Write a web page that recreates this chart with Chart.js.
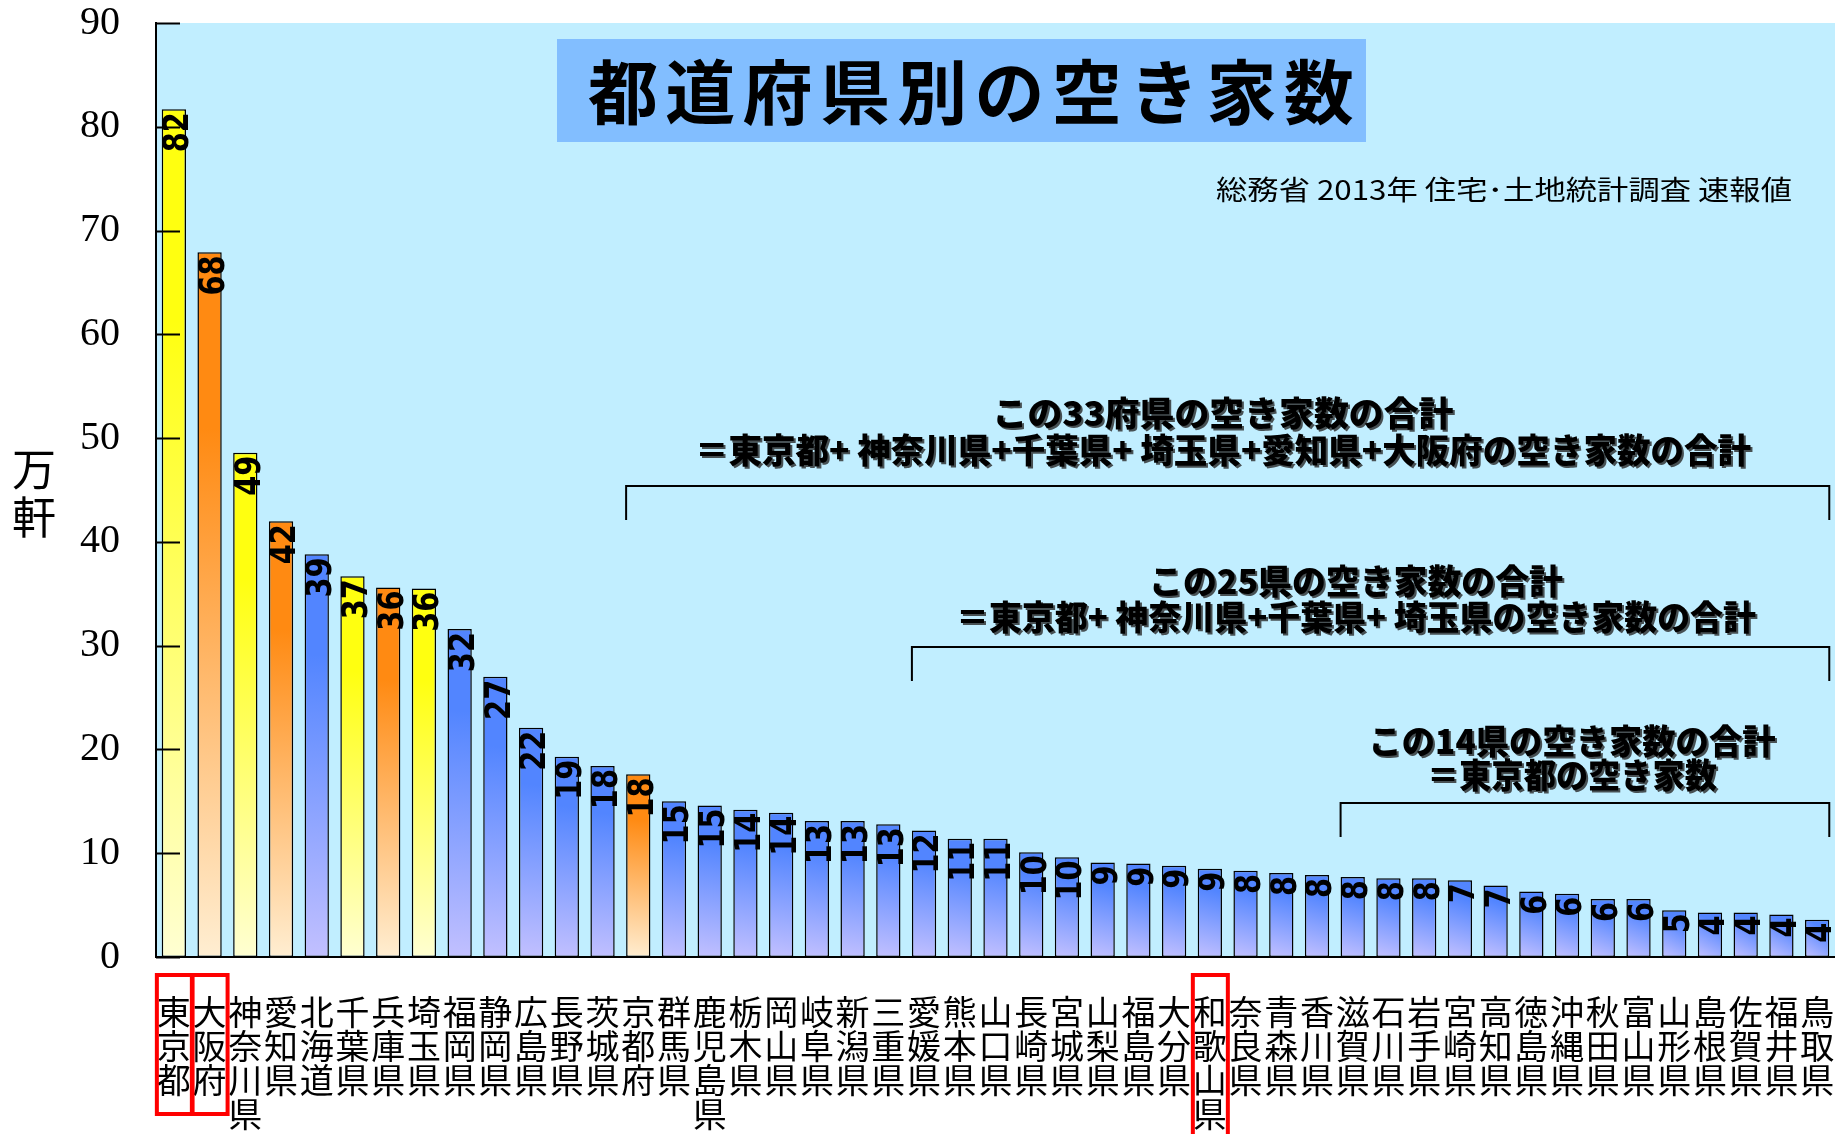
<!DOCTYPE html>
<html lang="ja">
<head>
<meta charset="utf-8">
<title>都道府県別の空き家数</title>
<script src="https://cdn.jsdelivr.net/npm/chart.js@4.4.1/dist/chart.umd.min.js"></script>
<style>
  html, body { margin: 0; padding: 0; background: #fff; }
  #wrap { position: relative; width: 1835px; height: 1134px; }
</style>
</head>
<body>
<div id="wrap"><canvas id="c"></canvas></div>
<script>
// 都道府県別の空き家数（万軒） —— 総務省 2013年 住宅・土地統計調査 速報値

const prefectures = [
  '東京都', '大阪府', '神奈川県', '愛知県', '北海道', '千葉県', '兵庫県', '埼玉県',
  '福岡県', '静岡県', '広島県', '長野県', '茨城県', '京都府', '群馬県', '鹿児島県',
  '栃木県', '岡山県', '岐阜県', '新潟県', '三重県', '愛媛県', '熊本県', '山口県',
  '長崎県', '宮城県', '山梨県', '福島県', '大分県', '和歌山県', '奈良県', '青森県',
  '香川県', '滋賀県', '石川県', '岩手県', '宮崎県', '高知県', '徳島県', '沖縄県',
  '秋田県', '富山県', '山形県', '島根県', '佐賀県', '福井県', '鳥取県'
];

// 万軒
const vacantHomes = [
  81.7, 67.9, 48.6, 42.0, 38.8, 36.7, 35.6, 35.5,
  31.6, 27.0, 22.1, 19.3, 18.4, 17.6, 15.0, 14.6,
  14.2, 13.9, 13.1, 13.1, 12.8, 12.2, 11.4, 11.4,
  10.1, 9.6, 9.1, 9.0, 8.8, 8.5, 8.3, 8.1,
  7.9, 7.7, 7.6, 7.6, 7.4, 6.9, 6.3, 6.1,
  5.6, 5.6, 4.5, 4.3, 4.3, 4.1, 3.6
];

// 棒の色分け  y: 黄, o: 橙, b: 青
const colorGroups = [
  'y', 'o', 'y', 'o', 'b', 'y', 'o', 'y',
  'b', 'b', 'b', 'b', 'b', 'o', 'b', 'b',
  'b', 'b', 'b', 'b', 'b', 'b', 'b', 'b',
  'b', 'b', 'b', 'b', 'b', 'b', 'b', 'b',
  'b', 'b', 'b', 'b', 'b', 'b', 'b', 'b',
  'b', 'b', 'b', 'b', 'b', 'b', 'b'
];

const yTickValues = [0, 10, 20, 30, 40, 50, 60, 70, 80, 90];

const chartTitle = '都道府県別の空き家数';
const sourceNote = '総務省 2013年 住宅･土地統計調査 速報値';
const yAxisTitle = ['万', '軒'];

// 赤枠で囲む県（インデックス）
const highlighted = [0, 1, 29];

// 括弧の注記  from/to は棒のインデックス
const bracketNotes = [
  { lines: ['この33府県の空き家数の合計', '＝東京都+ 神奈川県+千葉県+ 埼玉県+愛知県+大阪府の空き家数の合計'], from: 13, to: 46 },
  { lines: ['この25県の空き家数の合計', '＝東京都+ 神奈川県+千葉県+ 埼玉県の空き家数の合計'], from: 21, to: 46 },
  { lines: ['この14県の空き家数の合計', '＝東京都の空き家数'], from: 33, to: 46 }
];

// ---- 見た目 ----
const CJK = '"Noto Sans CJK JP", "Noto Sans CJK SC", sans-serif';
const PALETTE = {
  y: { top: '#FFFF10', bottom: '#FFFFD2' },
  o: { top: '#FF8A12', bottom: '#FFEED2' },
  b: { top: '#5285FF', bottom: '#C2C0FF' }
};
// 注記の配置 (テキスト中心・幅、括弧の高さ)
const NOTE_LAYOUT = [
  { cx: 1223, y1: 413, w1: 461, y2: 450, w2: 1056, by: 486, drop: 34 },
  { cx: 1356, y1: 581, w1: 414, y2: 617, w2: 800, by: 647, drop: 34 },
  { cx: 1572, y1: 741, w1: 407, y2: 775, w2: 290, by: 803, drop: 34 }
];

function barFill(ctx) {
  const i = ctx.dataIndex;
  const pal = PALETTE[colorGroups[i]];
  const { x, y } = ctx.chart.scales;
  if (!x || !y || !ctx.chart.chartArea) return pal.top;
  const cx = x.getPixelForValue(i);
  const half = (x.getPixelForValue(1) - x.getPixelForValue(0)) * 0.34;
  const top = y.getPixelForValue(vacantHomes[i]);
  const bottom = y.getPixelForValue(0);
  const g = ctx.chart.ctx.createLinearGradient(cx + half, top, cx - half, bottom);
  g.addColorStop(0, pal.top);
  g.addColorStop(0.25, pal.top);
  g.addColorStop(1, pal.bottom);
  return g;
}

function fitText(c, text, cx, cy, width) {
  const w = c.measureText(text).width;
  c.save();
  c.translate(cx, cy);
  c.scale(width / w, 1);
  c.textAlign = 'center';
  c.fillText(text, 0, 0);
  c.restore();
}

const decor = {
  id: 'decor',
  beforeDraw(chart) {
    const { ctx, chartArea: a } = chart;
    ctx.save();
    ctx.fillStyle = '#C1EEFF';
    ctx.fillRect(a.left, a.top, a.right - a.left, a.bottom - a.top);
    ctx.restore();
  },
  afterDatasetsDraw(chart) {
    const { ctx, chartArea: a } = chart;
    const yScale = chart.scales.y;
    const meta = chart.getDatasetMeta(0);
    ctx.save();
    // 棒の上の数値（縦書き、下から上へ）
    ctx.fillStyle = '#000';
    ctx.font = 'bold 36px "DejaVu Sans", sans-serif';
    meta.data.forEach((bar, i) => {
      ctx.save();
      ctx.translate(bar.x + 5, bar.y + 3);
      ctx.rotate(-Math.PI / 2);
      ctx.scale(0.8, 1);
      ctx.textAlign = 'right';
      ctx.textBaseline = 'middle';
      ctx.fillText(String(Math.round(vacantHomes[i])), 0, 0);
      ctx.restore();
    });
    // 内向きの目盛
    ctx.strokeStyle = '#000';
    ctx.lineWidth = 2;
    yScale.ticks.forEach((t) => {
      const py = Math.round(yScale.getPixelForValue(t.value)) + 0.5;
      ctx.beginPath();
      ctx.moveTo(a.left, py);
      ctx.lineTo(a.left + 24, py);
      ctx.stroke();
    });
    ctx.restore();
  },
  afterDraw(chart) {
    const { ctx } = chart;
    const xScale = chart.scales.x;
    const meta = chart.getDatasetMeta(0);
    ctx.save();

    // タイトル
    ctx.fillStyle = '#82BEFF';
    ctx.fillRect(557, 39, 809, 103);
    ctx.fillStyle = '#000';
    ctx.font = `bold 70px ${CJK}`;
    ctx.textAlign = 'center';
    ctx.textBaseline = 'middle';
    [...chartTitle].forEach((ch, k) => ctx.fillText(ch, 623 + k * 77.3, 92));

    // 出典
    ctx.font = `27px ${CJK}`;
    ctx.textBaseline = 'middle';
    fitText(ctx, sourceNote, 1504, 190, 576);

    // 縦軸タイトル
    ctx.font = `44px ${CJK}`;
    ctx.textAlign = 'center';
    yAxisTitle.forEach((ch, k) => ctx.fillText(ch, 34, 469 + k * 48));

    // 括弧の注記
    bracketNotes.forEach((note, n) => {
      const L = NOTE_LAYOUT[n];
      const left = xScale.getPixelForValue(note.from) - meta.data[note.from].width / 2;
      const right = xScale.getPixelForValue(note.to) + meta.data[note.to].width / 2;
      ctx.strokeStyle = '#000';
      ctx.lineWidth = 2;
      ctx.beginPath();
      ctx.moveTo(left, L.by + L.drop);
      ctx.lineTo(left, L.by);
      ctx.lineTo(right, L.by);
      ctx.lineTo(right, L.by + L.drop);
      ctx.stroke();

      ctx.font = `900 34px ${CJK}`;
      ctx.textBaseline = 'middle';
      ctx.fillStyle = '#000';
      ctx.shadowColor = 'rgba(40,40,40,0.8)';
      ctx.shadowOffsetX = 2;
      ctx.shadowOffsetY = 2;
      fitText(ctx, note.lines[0], L.cx, L.y1, L.w1);
      fitText(ctx, note.lines[1], L.cx, L.y2, L.w2);
      ctx.shadowColor = 'transparent';
    });

    // 赤枠
    ctx.strokeStyle = '#FF0000';
    ctx.lineWidth = 4;
    highlighted.forEach((i) => {
      const cx = xScale.getPixelForValue(i);
      const rows = prefectures[i].length;
      const top = 975;
      const h = 139 + (rows - 3) * 34;
      ctx.strokeRect(cx - 17, top, 35, h);
    });
    ctx.restore();
  }
};

new Chart(document.getElementById('c'), {
  type: 'bar',
  data: {
    labels: prefectures.map((p) => p.split('')),
    datasets: [{
      data: vacantHomes,
      backgroundColor: barFill,
      borderColor: '#000',
      borderWidth: 1.5,
      borderSkipped: false,
      categoryPercentage: 1,
      barPercentage: 0.68
    }]
  },
  options: {
    responsive: true,
    maintainAspectRatio: false,
    animation: false,
    layout: { padding: { top: 23, right: 0, bottom: 0, left: 0 } },
    plugins: { legend: { display: false }, tooltip: { enabled: false } },
    scales: {
      x: {
        grid: { display: false, drawTicks: false },
        border: { display: true, color: '#000', width: 2 },
        ticks: {
          autoSkip: false, maxRotation: 0, minRotation: 0, padding: 38, color: '#000',
          font: { family: CJK, size: 34, lineHeight: 1 }
        },
        afterFit(s) { s.height = 177; s.paddingLeft = 0; s.paddingRight = 0; }
      },
      y: {
        min: yTickValues[0],
        max: yTickValues[yTickValues.length - 1],
        grid: { display: false, drawTicks: false },
        border: { display: true, color: '#000', width: 2 },
        ticks: {
          stepSize: yTickValues[1] - yTickValues[0], padding: 36, color: '#000',
          font: { family: '"Liberation Serif", "Times New Roman", serif', size: 40 }
        },
        afterFit(s) { s.width = 156; s.paddingTop = 0; s.paddingBottom = 0; }
      }
    }
  },
  plugins: [decor]
});
</script>
</body>
</html>
